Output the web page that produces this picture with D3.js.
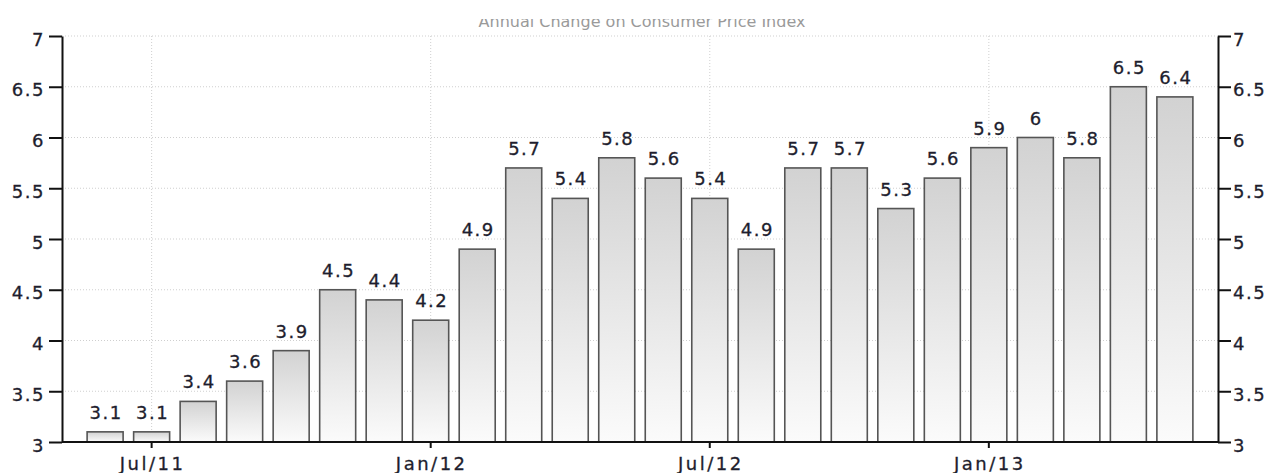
<!DOCTYPE html>
<html>
<head>
<meta charset="utf-8">
<script src="https://cdn.jsdelivr.net/npm/d3@7"></script>
<style>
  body { margin: 0; background: #fff; }
  svg { display: block; font-family: "DejaVu Sans", Verdana, sans-serif; }
</style>
</head>
<body>
<div id="chart"></div>
<script>
// Dữ liệu: tháng và mức thay đổi CPI hằng năm
const months = ["Jun/11", "Jul/11", "Aug/11", "Sep/11", "Oct/11", "Nov/11", "Dec/11",
    "Jan/12", "Feb/12", "Mar/12", "Apr/12", "May/12", "Jun/12",
    "Jul/12", "Aug/12", "Sep/12", "Oct/12", "Nov/12", "Dec/12",
    "Jan/13", "Feb/13", "Mar/13", "Apr/13", "May/13"];
const values = [3.1, 3.1, 3.4, 3.6, 3.9, 4.5, 4.4, 4.2, 4.9, 5.7, 5.4, 5.8,
    5.6, 5.4, 4.9, 5.7, 5.7, 5.3, 5.6, 5.9, 6, 5.8, 6.5, 6.4];
const xTickLabels = ["Jul/11", "Jan/12", "Jul/12", "Jan/13"];
const yTicks = [3, 3.5, 4, 4.5, 5, 5.5, 6, 6.5, 7];
const title = "Annual Change on Consumer Price Index";

const data = months.map((m, i) => ({ month: m, value: values[i] }));

const width = 1267;
const height = 473;
const margin = { top: 36, right: 49, bottom: 31, left: 62 };
const labelColor = "#1e1e2e";

const svg = d3.select("#chart")
    .append("svg")
    .attr("width", width)
    .attr("height", height);

// Gradient cho cột
const defs = svg.append("defs");
const grad = defs.append("linearGradient")
    .attr("id", "barGrad")
    .attr("x1", 0).attr("y1", 0).attr("x2", 0).attr("y2", 1);
grad.append("stop").attr("offset", "0%").attr("stop-color", "#d2d2d2");
grad.append("stop").attr("offset", "100%").attr("stop-color", "#fbfbfb");

defs.append("clipPath").attr("id", "titleClip")
    .append("rect").attr("x", 0).attr("y", 19).attr("width", width).attr("height", 20);

// Thang đo
const x = d3.scaleBand()
    .domain(months)
    .range([margin.left, width - margin.right])
    .paddingInner(0.226)
    .paddingOuter(0.54);

const y = d3.scaleLinear()
    .domain([3, 7])
    .range([height - margin.bottom, margin.top]);

const x0 = margin.left, x1 = width - margin.right;
const y0 = height - margin.bottom, y1 = margin.top;

// Lưới chấm
svg.append("g")
    .selectAll("line")
    .data(yTicks.filter(d => d > 3))
    .join("line")
    .attr("x1", x0).attr("x2", x1)
    .attr("y1", d => y(d)).attr("y2", d => y(d))
    .attr("stroke", "#cfcfcf")
    .attr("stroke-width", 1)
    .attr("stroke-dasharray", "1,2");

svg.append("g")
    .selectAll("line")
    .data(xTickLabels)
    .join("line")
    .attr("x1", d => x(d) + x.bandwidth() / 2)
    .attr("x2", d => x(d) + x.bandwidth() / 2)
    .attr("y1", y1).attr("y2", y0)
    .attr("stroke", "#cfcfcf")
    .attr("stroke-width", 1)
    .attr("stroke-dasharray", "1,2");

// Tiêu đề (bị cắt phần trên như ảnh gốc)
svg.append("text")
    .attr("clip-path", "url(#titleClip)")
    .attr("x", (x0 + x1) / 2 + 2)
    .attr("y", 27)
    .attr("text-anchor", "middle")
    .style("font-size", "16px")
    .style("fill", "#9a9a9a")
    .text(title);

// Cột
svg.append("g")
    .selectAll("rect")
    .data(data)
    .join("rect")
    .attr("x", d => x(d.month))
    .attr("y", d => y(d.value))
    .attr("width", x.bandwidth())
    .attr("height", d => y(3) - y(d.value))
    .attr("fill", "url(#barGrad)")
    .attr("stroke", "#555")
    .attr("stroke-width", 1.6);

// Nhãn giá trị
svg.append("g")
    .selectAll("text")
    .data(data)
    .join("text")
    .attr("x", d => x(d.month) + x.bandwidth() / 2 + 1)
    .attr("y", d => y(d.value) - 13)
    .attr("text-anchor", "middle")
    .style("font-size", "18px")
    .style("letter-spacing", "1.5px")
    .style("fill", labelColor)
    .style("stroke", labelColor)
    .style("stroke-width", 0.3)
    .text(d => String(d.value));

// Trục
const tickFmt = d => String(d);
const styleAxis = g => {
    g.select(".domain").attr("stroke", "#111").attr("stroke-width", 2);
    g.selectAll(".tick line").attr("stroke", "#111").attr("stroke-width", 2);
    g.selectAll(".tick text")
        .style("font-size", "18px")
        .style("letter-spacing", "1.5px")
        .style("fill", labelColor)
        .style("stroke", labelColor)
        .style("stroke-width", 0.3)
        .style("font-family", "'DejaVu Sans', Verdana, sans-serif");
};

svg.append("g")
    .attr("transform", `translate(${x0},0)`)
    .call(d3.axisLeft(y).tickValues(yTicks).tickFormat(tickFmt).tickSize(13).tickSizeOuter(0).tickPadding(4))
    .call(styleAxis)
    .call(g => g.selectAll(".tick text").attr("dy", "0.5em"));

svg.append("g")
    .attr("transform", `translate(${x1},0)`)
    .call(d3.axisRight(y).tickValues(yTicks).tickFormat(tickFmt).tickSize(13).tickSizeOuter(0).tickPadding(2))
    .call(styleAxis)
    .call(g => g.selectAll(".tick text").attr("dy", "0.5em"));

const xAxis = d3.axisBottom(x)
    .tickValues(xTickLabels)
    .tickSize(6)
    .tickSizeOuter(0)
    .tickPadding(9);

svg.append("g")
    .attr("transform", `translate(0,${y0})`)
    .call(xAxis)
    .call(styleAxis)
    .call(g => g.selectAll(".tick text").style("letter-spacing", "2.5px").attr("dx", "1"))
    .call(g => g.select(".domain").attr("d", `M${x0},0H${x1}`));
</script>
</body>
</html>
